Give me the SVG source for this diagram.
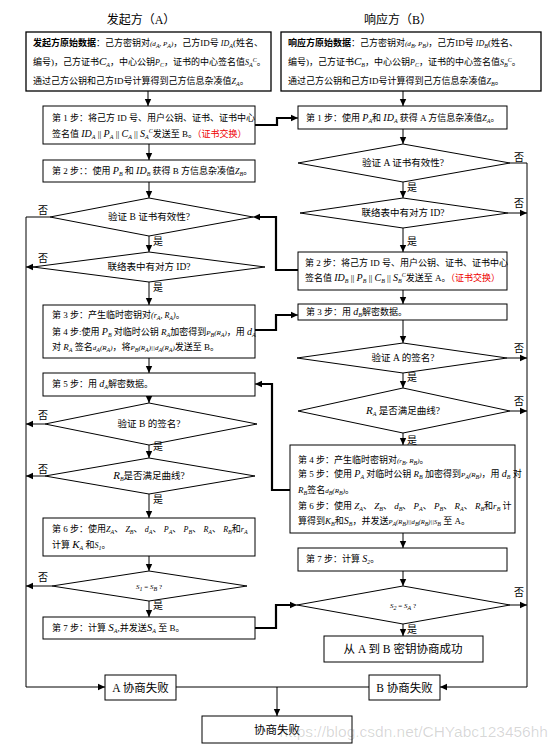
<svg xmlns="http://www.w3.org/2000/svg" width="553" height="747" viewBox="0 0 553 747">
<style>
text{font-family:"Liberation Serif","Noto Sans CJK SC",serif;fill:#000}
.t{font-size:9px}
.d{font-size:9.5px;text-anchor:middle}
.h{font-size:12px;text-anchor:middle}
.f{font-size:11.5px;text-anchor:middle}
.l{font-size:10px}
.v{font-style:italic;font-family:"Liberation Serif",serif}
.s{font-size:6px;font-style:italic}
.r{fill:#e00}
.b{font-weight:bold}
.box{fill:#fff;stroke:#000;stroke-width:1}
.bx2{fill:#fff;stroke:#000;stroke-width:1.3}
.ln{fill:none;stroke:#000;stroke-width:1}
.tk{fill:none;stroke:#000;stroke-width:2.2}
</style>
<defs>
<marker id="ar" markerUnits="userSpaceOnUse" markerWidth="8" markerHeight="8" refX="7" refY="4" orient="auto">
<path d="M0,0.8 L7,4 L0,7.2 z" fill="#000"/>
</marker>
</defs>
<rect width="553" height="747" fill="#fff"/>

<g id="titles">
<text class="h" x="141" y="24">发起方（A）</text>
<text class="h" x="398" y="24">响应方（B）</text>
</g>

<g id="a0">
<rect class="bx2" x="26" y="32" width="245" height="59"/>
<text class="t" x="33" y="46"><tspan class="b">发起方原始数据</tspan>：己方密钥对<tspan class="v" font-size="7">(d</tspan><tspan class="s" dy="2">A</tspan><tspan class="v" font-size="7" dy="-2">, P</tspan><tspan class="s" dy="2">A</tspan><tspan class="v" font-size="7" dy="-2">)</tspan>，己方ID号<tspan class="v" font-size="8"> ID</tspan><tspan class="s" dy="2">A</tspan><tspan dy="-2">(姓名、</tspan></text>
<text class="t" x="33" y="65">编号)，己方证书<tspan class="v" font-size="11">C</tspan><tspan class="s" dy="2">A</tspan><tspan dy="-2">，中心公钥</tspan><tspan class="v" font-size="8">P</tspan><tspan class="s" dy="2">C</tspan><tspan dy="-2">，证书的中心签名值</tspan><tspan class="v" font-size="8">S</tspan><tspan class="s" dy="2">A</tspan><tspan class="s" dy="-5">C</tspan><tspan dy="3">。</tspan></text>
<text class="t" x="33" y="84">通过己方公钥和己方ID号计算得到己方信息杂凑值<tspan class="v" font-size="8">Z</tspan><tspan class="s" dy="2">A</tspan><tspan dy="-2">。</tspan></text>
</g>

<g id="b0">
<rect class="bx2" x="281" y="32" width="260" height="59"/>
<text class="t" x="288" y="46"><tspan class="b">响应方原始数据</tspan>：己方密钥对<tspan class="v" font-size="7">(d</tspan><tspan class="s" dy="2">B</tspan><tspan class="v" font-size="7" dy="-2">, P</tspan><tspan class="s" dy="2">B</tspan><tspan class="v" font-size="7" dy="-2">)</tspan>，己方ID号<tspan class="v" font-size="8"> ID</tspan><tspan class="s" dy="2">B</tspan><tspan dy="-2">(姓名、</tspan></text>
<text class="t" x="288" y="65">编号)，己方证书<tspan class="v" font-size="11">C</tspan><tspan class="s" dy="2">B</tspan><tspan dy="-2">，中心公钥</tspan><tspan class="v" font-size="8">P</tspan><tspan class="s" dy="2">C</tspan><tspan dy="-2">，证书的中心签名值</tspan><tspan class="v" font-size="8">S</tspan><tspan class="s" dy="2">B</tspan><tspan class="s" dy="-5">C</tspan><tspan dy="3">。</tspan></text>
<text class="t" x="288" y="84">通过己方公钥和己方ID号计算得到己方信息杂凑值<tspan class="v" font-size="8">Z</tspan><tspan class="s" dy="2">B</tspan><tspan dy="-2">。</tspan></text>
</g>

<g id="a1">
<rect class="box" x="43" y="106" width="212" height="38"/>
<text class="t" x="52" y="121">第 1 步：将己方 ID 号、用户公钥、证书、证书中心</text>
<text class="t" x="52" y="137">签名值 <tspan class="v" font-size="10">ID</tspan><tspan class="s" dy="2">A</tspan><tspan dy="-2"> || </tspan><tspan class="v" font-size="10">P</tspan><tspan class="s" dy="2">A</tspan><tspan dy="-2"> || </tspan><tspan class="v" font-size="10">C</tspan><tspan class="s" dy="2">A</tspan><tspan dy="-2"> || </tspan><tspan class="v" font-size="10">S</tspan><tspan class="s" dy="2">A</tspan><tspan class="s" dy="-6">C</tspan><tspan dy="4">发送至 B。</tspan><tspan class="r">（证书交换）</tspan></text>
</g>

<g id="a2">
<rect class="box" x="43" y="160" width="212" height="22"/>
<text class="t" x="52" y="174">第 2 步：：使用 <tspan class="v" font-size="10">P</tspan><tspan class="s" dy="2">B</tspan><tspan dy="-2"> 和 </tspan><tspan class="v" font-size="10">ID</tspan><tspan class="s" dy="2">B</tspan><tspan dy="-2"> 获得 B 方信息杂凑值</tspan><tspan class="v" font-size="8">Z</tspan><tspan class="s" dy="2">B</tspan><tspan dy="-2">。</tspan></text>
</g>

<g id="ad1">
<polygon class="box" points="50,217 149,198 253,217 149,236"/>
<text class="d" x="149" y="220">验证 B 证书有效性?</text>
</g>
<g id="ad2">
<polygon class="box" points="33,267 149,252 265,267 149,282"/>
<text class="d" x="149" y="270">联络表中有对方 ID?</text>
</g>

<g id="a3">
<rect class="box" x="43" y="305" width="212" height="53"/>
<text class="t" x="52" y="318">第 3 步：产生临时密钥对<tspan class="v" font-size="8">(r</tspan><tspan class="s" dy="2">A</tspan><tspan class="v" font-size="8" dy="-2">, R</tspan><tspan class="s" dy="2">A</tspan><tspan class="v" font-size="8" dy="-2">)</tspan>。</text>
<text class="t" x="52" y="335">第 4 步:使用 <tspan class="v" font-size="10">P</tspan><tspan class="s" dy="2">B</tspan><tspan dy="-2"> 对临时公钥 </tspan><tspan class="v" font-size="9">R</tspan><tspan class="s" dy="2">A</tspan><tspan dy="-2">加密得到</tspan><tspan class="v" font-size="7">P</tspan><tspan class="s" dy="2">B</tspan><tspan class="v" font-size="7" dy="-2">(R</tspan><tspan class="s" dy="2">A</tspan><tspan class="v" font-size="7" dy="-2">)</tspan><tspan>，用 </tspan><tspan class="v" font-size="10">d</tspan><tspan class="s" dy="2">A</tspan></text>
<text class="t" x="52" y="350">对 <tspan class="v" font-size="9">R</tspan><tspan class="s" dy="2">A</tspan><tspan dy="-2"> 签名</tspan><tspan class="v" font-size="7">d</tspan><tspan class="s" dy="2">A</tspan><tspan class="v" font-size="7" dy="-2">(R</tspan><tspan class="s" dy="2">A</tspan><tspan class="v" font-size="7" dy="-2">)</tspan><tspan>，将</tspan><tspan class="v" font-size="7">P</tspan><tspan class="s" dy="2">B</tspan><tspan class="v" font-size="7" dy="-2">(R</tspan><tspan class="s" dy="2">A</tspan><tspan class="v" font-size="7" dy="-2">)||d</tspan><tspan class="s" dy="2">A</tspan><tspan class="v" font-size="7" dy="-2">(R</tspan><tspan class="s" dy="2">A</tspan><tspan class="v" font-size="7" dy="-2">)</tspan><tspan>发送至 B。</tspan></text>
</g>

<g id="a5">
<rect class="box" x="43" y="373" width="212" height="23"/>
<text class="t" x="52" y="387">第 5 步：用 <tspan class="v" font-size="10">d</tspan><tspan class="s" dy="2">A</tspan><tspan dy="-2">解密数据。</tspan></text>
</g>

<g id="ad3">
<polygon class="box" points="45,424 149,403 257,424 149,445"/>
<text class="d" x="149" y="427">验证 B 的签名?</text>
</g>
<g id="ad4">
<polygon class="box" points="45,476 149,458 255,476 149,494"/>
<text class="d" x="149" y="479"><tspan class="v" font-size="11">R</tspan><tspan class="s" dy="2">B</tspan><tspan dy="-2">是否满足曲线?</tspan></text>
</g>

<g id="a6">
<rect class="box" x="43" y="518" width="212" height="38"/>
<text class="t" x="52" y="532">第 6 步：使用<tspan class="v" font-size="8">Z</tspan><tspan class="s" dy="2">A</tspan><tspan dy="-2">、 </tspan><tspan class="v" font-size="8">Z</tspan><tspan class="s" dy="2">B</tspan><tspan dy="-2">、 </tspan><tspan class="v" font-size="8">d</tspan><tspan class="s" dy="2">A</tspan><tspan dy="-2">、 </tspan><tspan class="v" font-size="8">P</tspan><tspan class="s" dy="2">A</tspan><tspan dy="-2">、 </tspan><tspan class="v" font-size="8">P</tspan><tspan class="s" dy="2">B</tspan><tspan dy="-2">、 </tspan><tspan class="v" font-size="8">R</tspan><tspan class="s" dy="2">A</tspan><tspan dy="-2">、 </tspan><tspan class="v" font-size="8">R</tspan><tspan class="s" dy="2">B</tspan><tspan dy="-2">和</tspan><tspan class="v" font-size="8">r</tspan><tspan class="s" dy="2">A</tspan></text>
<text class="t" x="52" y="548">计算 <tspan class="v" font-size="11">K</tspan><tspan class="s" dy="2">A</tspan><tspan dy="-2"> 和</tspan><tspan class="v" font-size="8">S</tspan><tspan class="s" dy="2">1</tspan><tspan dy="-2">。</tspan></text>
</g>

<g id="ad5">
<polygon class="box" points="52,586 149,571 247,586 149,601"/>
<text class="d" x="149" y="589" font-size="7"><tspan class="v" font-size="7">S</tspan><tspan class="s" font-size="5" dy="1.5">1</tspan><tspan dy="-1.5" font-size="7"> = </tspan><tspan class="v" font-size="7">S</tspan><tspan class="s" font-size="5" dy="1.5">B</tspan><tspan dy="-1.5" font-size="7"> ?</tspan></text>
</g>

<g id="a7">
<rect class="box" x="43" y="617" width="212" height="22"/>
<text class="t" x="52" y="631">第 7 步：计算 <tspan class="v" font-size="11">S</tspan><tspan class="s" dy="2">A</tspan><tspan dy="-2">,并发送</tspan><tspan class="v" font-size="11">S</tspan><tspan class="s" dy="2">A</tspan><tspan dy="-2"> 至 B。</tspan></text>
</g>

<g id="b1">
<rect class="box" x="298" y="106" width="209" height="23"/>
<text class="t" x="306" y="121">第 1 步：使用 <tspan class="v" font-size="10">P</tspan><tspan class="s" dy="2">A</tspan><tspan dy="-2">和 </tspan><tspan class="v" font-size="10">ID</tspan><tspan class="s" dy="2">A</tspan><tspan dy="-2"> 获得 A 方信息杂凑值</tspan><tspan class="v" font-size="8">Z</tspan><tspan class="s" dy="2">A</tspan><tspan dy="-2">。</tspan></text>
</g>
<g id="bd1">
<polygon class="box" points="298,163 403,144 510,163 403,182"/>
<text class="d" x="403" y="166">验证 A 证书有效性?</text>
</g>
<g id="bd2">
<polygon class="box" points="300,213 403,198 508,213 403,228"/>
<text class="d" x="403" y="216">联络表中有对方 ID?</text>
</g>

<g id="b2">
<rect class="box" x="298" y="252" width="209" height="38"/>
<text class="t" x="305" y="266" font-size="8.7">第 2 步：将己方 ID 号、用户公钥、证书、证书中心</text>
<text class="t" x="305" y="281" font-size="8.7">签名值 <tspan class="v" font-size="10">ID</tspan><tspan class="s" dy="2">B</tspan><tspan dy="-2"> || </tspan><tspan class="v" font-size="10">P</tspan><tspan class="s" dy="2">B</tspan><tspan dy="-2"> || </tspan><tspan class="v" font-size="10">C</tspan><tspan class="s" dy="2">B</tspan><tspan dy="-2"> || </tspan><tspan class="v" font-size="10">S</tspan><tspan class="s" dy="2">B</tspan><tspan class="s" dy="-6">C</tspan><tspan dy="4">发送至 A。</tspan><tspan class="r">（证书交换）</tspan></text>
</g>

<g id="b3">
<rect class="box" x="298" y="304" width="209" height="16"/>
<text class="t" x="306" y="315">第 3 步：用 <tspan class="v" font-size="10">d</tspan><tspan class="s" dy="2">B</tspan><tspan dy="-2">解密数据。</tspan></text>
</g>

<g id="bd3">
<polygon class="box" points="297,358 403,343 507,358 403,373"/>
<text class="d" x="403" y="361">验证 A 的签名?</text>
</g>
<g id="bd4">
<polygon class="box" points="298,411 403,388 510,411 403,433"/>
<text class="d" x="403" y="414"><tspan class="v" font-size="11">R</tspan><tspan class="s" dy="2">A</tspan><tspan dy="-2"> 是否满足曲线?</tspan></text>
</g>

<g id="b4">
<rect class="box" x="290" y="445" width="225" height="88"/>
<text class="t" x="298" y="463">第 4 步：产生临时密钥对<tspan class="v" font-size="7">(r</tspan><tspan class="s" dy="2">B</tspan><tspan class="v" font-size="7" dy="-2">, R</tspan><tspan class="s" dy="2">B</tspan><tspan class="v" font-size="7" dy="-2">)</tspan>。</text>
<text class="t" x="298" y="477">第 5 步：使用 <tspan class="v" font-size="10">P</tspan><tspan class="s" dy="2">A</tspan><tspan dy="-2"> 对临时公钥 </tspan><tspan class="v" font-size="9">R</tspan><tspan class="s" dy="2">B</tspan><tspan dy="-2"> 加密得到</tspan><tspan class="v" font-size="7">P</tspan><tspan class="s" dy="2">A</tspan><tspan class="v" font-size="7" dy="-2">(R</tspan><tspan class="s" dy="2">B</tspan><tspan class="v" font-size="7" dy="-2">)</tspan><tspan>，用 </tspan><tspan class="v" font-size="10">d</tspan><tspan class="s" dy="2">B</tspan><tspan dy="-2"> 对</tspan></text>
<text class="t" x="298" y="493"><tspan class="v" font-size="9">R</tspan><tspan class="s" dy="2">B</tspan><tspan dy="-2">签名</tspan><tspan class="v" font-size="7">d</tspan><tspan class="s" dy="2">B</tspan><tspan class="v" font-size="7" dy="-2">(R</tspan><tspan class="s" dy="2">B</tspan><tspan class="v" font-size="7" dy="-2">)</tspan>。</text>
<text class="t" x="298" y="509">第 6 步：使用 <tspan class="v" font-size="9">Z</tspan><tspan class="s" dy="2">A</tspan><tspan dy="-2">、 </tspan><tspan class="v" font-size="9">Z</tspan><tspan class="s" dy="2">B</tspan><tspan dy="-2">、 </tspan><tspan class="v" font-size="9">d</tspan><tspan class="s" dy="2">B</tspan><tspan dy="-2">、 </tspan><tspan class="v" font-size="9">P</tspan><tspan class="s" dy="2">A</tspan><tspan dy="-2">、 </tspan><tspan class="v" font-size="9">P</tspan><tspan class="s" dy="2">B</tspan><tspan dy="-2">、 </tspan><tspan class="v" font-size="9">R</tspan><tspan class="s" dy="2">A</tspan><tspan dy="-2">、 </tspan><tspan class="v" font-size="9">R</tspan><tspan class="s" dy="2">B</tspan><tspan dy="-2">和</tspan><tspan class="v" font-size="9">r</tspan><tspan class="s" dy="2">B</tspan><tspan dy="-2"> 计</tspan></text>
<text class="t" x="298" y="524">算得到<tspan class="v" font-size="9">K</tspan><tspan class="s" dy="2">B</tspan><tspan dy="-2">和</tspan><tspan class="v" font-size="10">S</tspan><tspan class="s" dy="2">B</tspan><tspan dy="-2">，并发送</tspan><tspan class="v" font-size="6.5">P</tspan><tspan class="s" font-size="5" dy="2">A</tspan><tspan class="v" font-size="6.5" dy="-2">(R</tspan><tspan class="s" font-size="5" dy="2">B</tspan><tspan class="v" font-size="6.5" dy="-2">)||d</tspan><tspan class="s" font-size="5" dy="2">B</tspan><tspan class="v" font-size="6.5" dy="-2">(R</tspan><tspan class="s" font-size="5" dy="2">B</tspan><tspan class="v" font-size="6.5" dy="-2">)||S</tspan><tspan class="s" font-size="5" dy="2">B</tspan><tspan dy="-2"> 至 A。</tspan></text>
</g>

<g id="b7">
<rect class="box" x="298" y="548" width="209" height="23"/>
<text class="t" x="306" y="562">第 7 步：计算 <tspan class="v" font-size="10">S</tspan><tspan class="s" dy="2">2</tspan><tspan dy="-2">。</tspan></text>
</g>

<g id="bd5">
<polygon class="box" points="297,605 403,586 510,605 403,624"/>
<text class="d" x="403" y="608"><tspan class="v" font-size="7">S</tspan><tspan class="s" font-size="5" dy="1.5">2</tspan><tspan dy="-1.5" font-size="7"> = </tspan><tspan class="v" font-size="7">S</tspan><tspan class="s" font-size="5" dy="1.5">A</tspan><tspan dy="-1.5" font-size="7"> ?</tspan></text>
</g>

<g id="ok">
<rect class="box" x="324" y="636" width="159" height="26"/>
<text class="f" x="403" y="653">从 A 到 B 密钥协商成功</text>
</g>
<g id="afail">
<rect class="box" x="105" y="675" width="71" height="25"/>
<text class="f" x="140.5" y="692">A 协商失败</text>
</g>
<g id="bfail">
<rect class="box" x="369" y="675" width="71" height="25"/>
<text class="f" x="404.5" y="692">B 协商失败</text>
</g>
<g id="fail">
<rect class="box" x="202" y="716" width="150" height="27"/>
<text class="f" x="277" y="734">协商失败</text>
</g>

<g id="connectors">
<path class="ln" d="M148,91 V106" marker-end="url(#ar)"/>
<path class="ln" d="M403,91 V106" marker-end="url(#ar)"/>
<path class="ln" d="M149,144 V160" marker-end="url(#ar)"/>
<path class="ln" d="M149,182 V198" marker-end="url(#ar)"/>
<path class="ln" d="M149,236 V252" marker-end="url(#ar)"/>
<path class="ln" d="M149,282 V305" marker-end="url(#ar)"/>
<path class="ln" d="M149,358 V373" marker-end="url(#ar)"/>
<path class="ln" d="M149,396 V403" marker-end="url(#ar)"/>
<path class="ln" d="M149,445 V458" marker-end="url(#ar)"/>
<path class="ln" d="M149,494 V518" marker-end="url(#ar)"/>
<path class="ln" d="M149,556 V571" marker-end="url(#ar)"/>
<path class="ln" d="M149,601 V617" marker-end="url(#ar)"/>
<path class="ln" d="M50,217 H26 V687 H105" marker-end="url(#ar)"/>
<path class="ln" d="M33,267 H26" marker-end="url(#ar)"/>
<path class="ln" d="M45,424 H26" marker-end="url(#ar)"/>
<path class="ln" d="M45,476 H26" marker-end="url(#ar)"/>
<path class="ln" d="M52,586 H26" marker-end="url(#ar)"/>
<path class="ln" d="M176,687 H369"/>
<path class="ln" d="M277,687 V716" marker-end="url(#ar)"/>
<path class="ln" d="M403,129 V144" marker-end="url(#ar)"/>
<path class="ln" d="M403,182 V198" marker-end="url(#ar)"/>
<path class="ln" d="M403,228 V252" marker-end="url(#ar)"/>
<path class="ln" d="M403,290 V304" marker-end="url(#ar)"/>
<path class="ln" d="M403,320 V343" marker-end="url(#ar)"/>
<path class="ln" d="M403,373 V388" marker-end="url(#ar)"/>
<path class="ln" d="M403,433 V445" marker-end="url(#ar)"/>
<path class="ln" d="M403,533 V548" marker-end="url(#ar)"/>
<path class="ln" d="M403,571 V586" marker-end="url(#ar)"/>
<path class="ln" d="M403,624 V636" marker-end="url(#ar)"/>
<path class="ln" d="M510,163 H527 V687 H440" marker-end="url(#ar)"/>
<path class="ln" d="M508,213 H527" marker-end="url(#ar)"/>
<path class="ln" d="M507,358 H527" marker-end="url(#ar)"/>
<path class="ln" d="M510,411 H527" marker-end="url(#ar)"/>
<path class="ln" d="M510,605 H527" marker-end="url(#ar)"/>
<path class="tk" d="M255,125 H277 V118 H292"/>
<path class="ln" d="M290,118 H298" marker-end="url(#ar)"/>
<path class="tk" d="M298,270 H276 V217 H259"/>
<path class="ln" d="M261,217 H253" marker-end="url(#ar)"/>
<path class="tk" d="M255,330 H276 V315 H292"/>
<path class="ln" d="M290,315 H298" marker-end="url(#ar)"/>
<path class="tk" d="M290,490 H272 V384 H261"/>
<path class="ln" d="M263,384 H255" marker-end="url(#ar)"/>
<path class="tk" d="M255,628 H276 V605 H291"/>
<path class="ln" d="M289,605 H297" marker-end="url(#ar)"/>
</g>

<g id="labels">
<text class="l" x="38" y="214">否</text>
<text class="l" x="38" y="262">否</text>
<text class="l" x="38" y="419">否</text>
<text class="l" x="38" y="473">否</text>
<text class="l" x="38" y="581">否</text>
<text class="l" x="153" y="245">是</text>
<text class="l" x="153" y="291">是</text>
<text class="l" x="153" y="450">是</text>
<text class="l" x="153" y="503">是</text>
<text class="l" x="153" y="609">是</text>
<text class="l" x="514" y="161">否</text>
<text class="l" x="514" y="207">否</text>
<text class="l" x="514" y="352">否</text>
<text class="l" x="514" y="405">否</text>
<text class="l" x="514" y="596">否</text>
<text class="l" x="407" y="191">是</text>
<text class="l" x="407" y="245">是</text>
<text class="l" x="407" y="381">是</text>
<text class="l" x="407" y="444">是</text>
<text class="l" x="407" y="633">是</text>
</g>

<text x="548" y="737" text-anchor="end" font-size="15.5" fill="#000" fill-opacity="0.16" style="font-family:'Liberation Sans',sans-serif">https://blog.csdn.net/CHYabc123456hh</text>
</svg>
